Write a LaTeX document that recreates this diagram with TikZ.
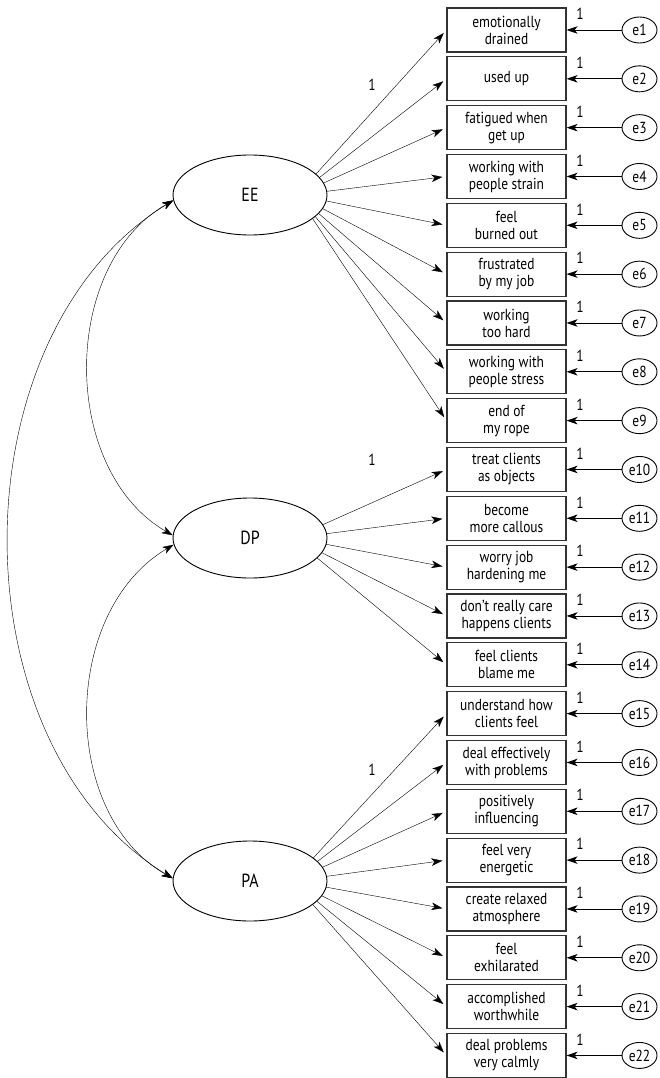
\documentclass[tikz,border=0pt]{standalone}
\usepackage{fontspec}
\setmainfont{PT Sans}[FakeStretch=0.84]
\usetikzlibrary{arrows.meta,shapes.geometric}
\pgfdeclarelayer{bg}
\pgfsetlayers{bg,main}
\begin{document}
\begin{tikzpicture}[x=1pt,y=-1pt,
  line width=0.9pt,
  tip/.tip={Stealth[length=11pt,width=7.5pt,inset=3pt]},
  arr/.style={-tip},
  cov/.style={tip-tip},
  lat/.style={draw, fill=white, ellipse, minimum width=154pt, minimum height=80pt, inner sep=0pt, font=\fontsize{19}{21}\selectfont},
  obs/.style={draw, rectangle, line width=1.1pt, draw=black!80, minimum width=119pt, minimum height=44pt, inner sep=0pt, align=center, font=\fontsize{16}{17}\selectfont},
  err/.style={draw, ellipse, minimum width=35pt, minimum height=26pt, inner sep=0pt, font=\fontsize{16}{17}\selectfont},
  lab/.style={font=\fontsize{16}{17}\selectfont, inner sep=0pt}]
\useasboundingbox (0,0) rectangle (659,1078);

\node[lat] (EE) at (250,195) {EE};
\node[lat] (DP) at (250,538) {DP};
\node[lat] (PA) at (250,881) {PA};
\coordinate (EEo) at (297,195);
\coordinate (DPo) at (293,538);
\coordinate (PAo) at (292,881);

\foreach [count=\i] \t in {{emotionally\\drained},{used up},{fatigued when\\get up},{working with\\people strain},{feel\\burned out},{frustrated\\by my job},{working\\too hard},{working with\\people stress},{end of\\my rope},{treat clients\\as objects},{become\\more callous},{worry job\\hardening me},{don’t really care\\happens clients},{feel clients\\blame me},{understand how\\clients feel},{deal effectively\\with problems},{positively\\influencing},{feel very\\energetic},{create relaxed\\atmosphere},{feel\\exhilarated},{accomplished\\worthwhile},{deal problems\\very calmly}} {
  \pgfmathsetmacro{\yy}{30+(\i-1)*48.83}
  \node[obs] (b\i) at (506.5,\yy) {\t};
  \node[err] (e\i) at (639.5,\yy) {e\i};
  \draw[arr] (e\i) -- (b\i);
  \node[lab] (l\i) at (580,\yy-16) {1};
}

\begin{pgfonlayer}{bg}
\foreach \i in {1,...,9} \draw[arr, shorten >=4pt] (EEo) -- (b\i.west);
\foreach \i in {10,...,14} \draw[arr, shorten >=4pt] (DPo) -- (b\i.west);
\foreach \i in {15,...,22} \draw[arr, shorten >=4pt] (PAo) -- (b\i.west);
\end{pgfonlayer}

\node[lab] (lEE) at (372,85) {1};
\node[lab] (lDP) at (372,460) {1};
\node[lab] (lPA) at (372,770) {1};

\draw[cov] (EE.184) .. controls (60,265) and (60,470) .. (DP.178);
\draw[cov] (DP.185) .. controls (60,612) and (60,815) .. (PA.178);
\draw[cov] (EE.184) .. controls (-46,335) and (-46,745) .. (PA.178);
\end{tikzpicture}
\end{document}
